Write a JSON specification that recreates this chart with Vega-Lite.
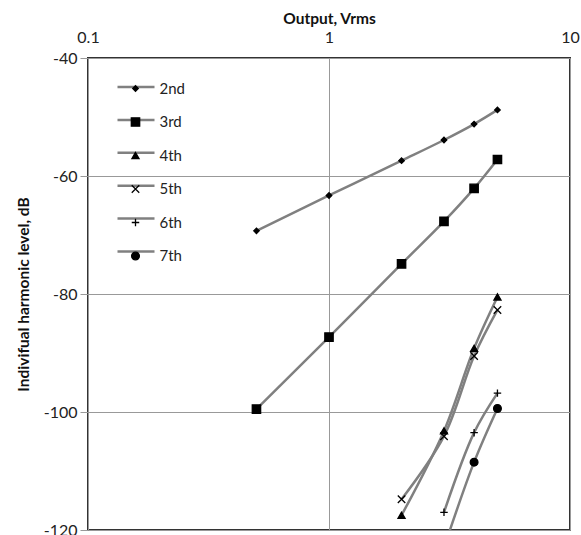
{
  "$schema": "https://vega.github.io/schema/vega-lite/v6.json",
  "width": 482,
  "height": 472,
  "autosize": {"type": "none"},
  "padding": {"left": 88, "top": 58, "right": 11, "bottom": 5},
  "background": "white",
  "config": {
    "font": "Lato",
    "view": {"stroke": "#333333", "strokeWidth": 2},
    "axis": {"labelFont": "Lato", "titleFont": "Lato", "labelColor": "#222", "titleColor": "#111", "labelFontSize": 16, "titleFontSize": 15.5, "titleFontWeight": "bold", "gridColor": "#999999", "gridWidth": 1, "domain": false, "tickColor": "#999999", "tickSize": 8}
  },
  "data": {
    "values": [
      {"h": "2nd", "v": 0.5, "db": -69.3},
      {"h": "2nd", "v": 1, "db": -63.3},
      {"h": "2nd", "v": 2, "db": -57.4},
      {"h": "2nd", "v": 3, "db": -53.9},
      {"h": "2nd", "v": 4, "db": -51.2},
      {"h": "2nd", "v": 5, "db": -48.8},
      {"h": "3rd", "v": 0.5, "db": -99.5},
      {"h": "3rd", "v": 1, "db": -87.3},
      {"h": "3rd", "v": 2, "db": -74.9},
      {"h": "3rd", "v": 3, "db": -67.7},
      {"h": "3rd", "v": 4, "db": -62.1},
      {"h": "3rd", "v": 5, "db": -57.2},
      {"h": "4th", "v": 2, "db": -117.5},
      {"h": "4th", "v": 3, "db": -103.2},
      {"h": "4th", "v": 4, "db": -89.2},
      {"h": "4th", "v": 5, "db": -80.5},
      {"h": "5th", "v": 2, "db": -114.8},
      {"h": "5th", "v": 3, "db": -104.1},
      {"h": "5th", "v": 4, "db": -90.5},
      {"h": "5th", "v": 5, "db": -82.7},
      {"h": "6th", "v": 3, "db": -117.0},
      {"h": "6th", "v": 4, "db": -103.5},
      {"h": "6th", "v": 5, "db": -96.8},
      {"h": "7th", "v": 3, "db": -123.0},
      {"h": "7th", "v": 4, "db": -108.5},
      {"h": "7th", "v": 5, "db": -99.4}
    ]
  },
  "encoding": {
    "x": {
      "field": "v", "type": "quantitative",
      "scale": {"type": "log", "domain": [0.1, 10]},
      "axis": {"orient": "top", "title": "Output, Vrms", "values": [0.1, 1, 10], "labelExpr": "toString(datum.value)", "ticks": false, "labelPadding": 13, "titlePadding": 3, "labelFlush": false}
    },
    "y": {
      "field": "db", "type": "quantitative",
      "scale": {"domain": [-120, -40], "nice": false},
      "axis": {"title": "Indivifual harmonic level, dB", "values": [-120, -100, -80, -60, -40], "labelExpr": "toString(datum.value)", "labelPadding": 3, "titlePadding": 12}
    }
  },
  "layer": [
    {
      "mark": {"type": "line", "clip": true, "interpolate": "catmull-rom", "strokeWidth": 2.5},
      "encoding": {
        "color": {
          "field": "h", "type": "nominal",
          "scale": {"domain": ["2nd", "3rd", "4th", "5th", "6th", "7th"], "range": ["#808080", "#808080", "#808080", "#808080", "#808080", "#808080"]},
          "legend": {"orient": "none", "legendX": 28, "legendY": 9, "title": null, "symbolType": "stroke", "symbolSize": 1369, "symbolStrokeWidth": 2.5, "labelOpacity": 0, "labelFontSize": 14, "rowPadding": 5.9, "padding": 0}
        }
      }
    },
    {
      "mark": {"type": "point", "filled": true, "clip": true, "color": "black", "stroke": "black", "strokeWidth": 1.3, "opacity": 1},
      "encoding": {
        "shape": {
          "field": "h", "type": "nominal",
          "scale": {"range": ["diamond", "square", "triangle-up", "M-1,-1L1,1M-1,1L1,-1", "M-1,0L1,0M0,-1L0,1", "circle"]},
          "legend": {"orient": "none", "legendX": 40, "legendY": 23, "title": null, "labelFont": "Lato", "labelFontSize": 15, "labelColor": "#222", "labelOffset": 16.5, "rowPadding": 17.5, "padding": 0, "symbolFillColor": "black", "symbolStrokeColor": "black", "symbolStrokeWidth": 1.3, "symbolOpacity": 1}
        },
        "size": {
          "field": "h", "type": "nominal",
          "scale": {"type": "ordinal", "range": [30, 70, 50, 56, 56, 60]}
        }
      }
    }
  ]
}
